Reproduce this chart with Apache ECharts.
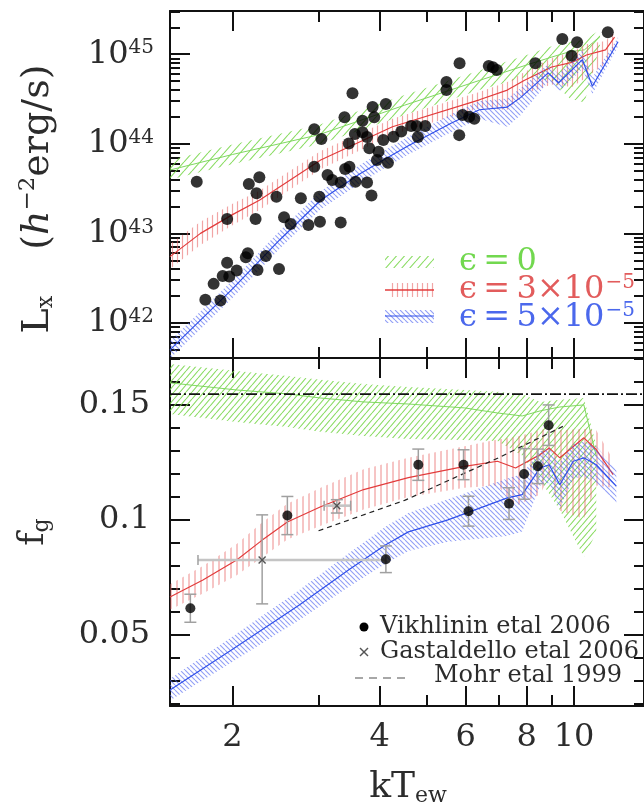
<!DOCTYPE html>
<html>
<head>
<meta charset="utf-8">
<script src="https://cdn.jsdelivr.net/npm/echarts@6/dist/echarts.min.js"></script>
<style>
  html, body { margin: 0; padding: 0; background: #fff; }
  #chart { width: 644px; height: 812px; }
</style>
</head>
<body>
<div id="chart"></div>
<script>
// ---------------- axis ranges and ticks ----------------
const kTMin = 1.49, kTMax = 13.9;            // keV
const lxMin = 4.06e41, lxMax = 3.04e45;      // h^-2 erg/s
const fMin = 0.0191, fMax = 0.1704;

const kTMajorTicks = [2, 4, 6, 8, 10];
const kTMinorTicks = [3, 5, 7, 9];
const kTTickLabels = [2, 4, 6, 8, 10];
const lxMajorTicks = [1e42, 1e43, 1e44, 1e45];
const lxTickLabels = [1e42, 1e43, 1e44, 1e45];
const lxMinorMantissas = [2, 3, 4, 5, 6, 7, 8, 9];
const fMajorTicks = [0.05, 0.10, 0.15];
const fTickLabels = [0.05, 0.10, 0.15];
const fMinorTicks = [0.02, 0.03, 0.04, 0.06, 0.07, 0.08, 0.09, 0.11, 0.12, 0.13, 0.14, 0.16, 0.17];

// ---------------- upper panel: observed clusters ----------------
const clusterKT = [1.69, 2.16, 2.27, 2.24, 2.46, 2.76, 3.01, 2.94, 2.94, 3.04,
  5.83, 5.48, 5.48, 3.52, 3.39, 3.87, 3.90, 4.12, 3.69, 3.46,
  3.56, 3.69, 3.77, 3.81, 3.98, 3.95, 4.16, 4.07, 4.27, 4.43,
  4.64, 4.76, 4.96, 4.79, 5.82, 5.91, 6.10, 6.25, 3.13, 3.20,
  3.33, 3.40, 3.47, 3.57, 3.77, 3.85, 11.72, 9.46, 10.14, 9.88,
  8.33, 6.69, 6.82, 6.95, 1.95, 2.23, 2.55, 2.63, 2.86, 3.02,
  2.15, 2.13, 1.95, 1.91, 1.97, 2.04, 2.25, 2.34, 2.49, 1.83,
  1.76, 1.89, 3.33];
const clusterLx = [3.78e43, 3.56e43, 4.24e43, 2.81e43, 2.57e43, 2.47e43, 2.57e43, 1.45e44, 5.56e43, 1.13e44,
  7.93e44, 4.91e44, 3.99e44, 3.67e44, 1.98e44, 2.58e44, 1.98e44, 2.79e44, 1.81e44, 1.01e44,
  1.29e44, 1.35e44, 1.19e44, 8.93e43, 8.18e43, 6.61e43, 6.16e43, 1.10e44, 1.20e44, 1.37e44,
  1.58e44, 1.58e44, 1.58e44, 1.19e44, 1.25e44, 2.10e44, 2.01e44, 1.91e44, 4.49e43, 3.95e43,
  3.69e43, 5.24e43, 5.56e43, 3.78e43, 3.69e43, 2.65e43, 1.76e45, 1.48e45, 1.36e45, 9.65e44,
  7.93e44, 7.40e44, 7.16e44, 6.68e44, 1.45e43, 1.45e43, 1.51e43, 1.27e43, 1.24e43, 1.35e43,
  6.00e42, 5.42e42, 4.71e42, 3.35e42, 3.29e42, 3.84e42, 3.91e42, 5.60e42, 4.01e42, 2.73e42,
  1.81e42, 1.78e42, 1.32e43];

// ---------------- upper panel: simulated L-T bands ----------------
const lxEps0KT  = [1.49, 2.0, 3.0, 4.5, 6.4, 8.0, 9.0, 9.8, 10.5, 11.3];
const lxEps0Mid = [5.1e43, 7.6e43, 1.26e44, 2.7e44, 5.1e44, 7.6e44, 9.3e44, 1.07e45, 1.12e45, 1.58e45];
const lxEps0Hi  = [6.6e43, 9.8e43, 1.62e44, 3.5e44, 6.6e44, 9.8e44, 1.23e45, 1.38e45, 1.45e45, 1.86e45];
const lxEps0Lo  = [4.0e43, 5.9e43, 9.8e43, 2.1e44, 4.0e44, 5.6e44, 5.0e44, 3.2e44, 2.9e44, 1.26e45];

const lxEps3KT  = [1.49, 1.72, 2.0, 2.27, 3.03, 4.25, 6.4, 7.3, 7.9, 9.0, 9.9, 10.6, 11.6, 12.1];
const lxEps3Mid = [5.5e42, 1.0e43, 1.62e43, 2.34e43, 6.6e43, 1.55e44, 3.1e44, 3.98e44, 5.1e44, 7.2e44, 8.1e44, 9.8e44, 1.12e45, 1.55e45];
const lxEps3Hi  = [7.6e42, 1.35e43, 2.14e43, 3.0e43, 8.3e43, 1.9e44, 3.8e44, 4.9e44, 6.3e44, 9.1e44, 1.07e45, 1.29e45, 1.41e45, 1.78e45];
const lxEps3Lo  = [4.0e42, 7.4e42, 1.23e43, 1.82e43, 5.2e43, 1.26e44, 2.5e44, 2.4e44, 3.6e44, 4.6e44, 4.3e44, 5.5e44, 7.9e44, 1.23e45];

const lxEps5KT  = [1.49, 2.0, 2.5, 3.03, 3.64, 4.13, 4.58, 5.6, 6.4, 7.3, 7.78, 8.85, 9.3, 10.4, 10.9, 12.3];
const lxEps5Mid = [5.0e41, 2.4e42, 8.5e42, 2.34e43, 4.6e43, 6.9e43, 9.5e43, 1.7e44, 2.4e44, 2.57e44, 3.3e44, 6.2e44, 4.8e44, 8.7e44, 4.4e44, 1.38e45];
const lxEps5Hi  = [6.3e41, 3.0e42, 1.07e43, 2.95e43, 5.8e43, 8.7e43, 1.2e44, 2.14e44, 3.0e44, 3.2e44, 4.2e44, 7.8e44, 6.0e44, 1.1e45, 5.5e44, 1.55e45];
const lxEps5Lo  = [4.0e41, 1.9e42, 6.8e42, 1.86e43, 3.6e43, 5.5e43, 7.6e43, 1.35e44, 1.9e44, 1.55e44, 2.1e44, 4.9e44, 3.8e44, 6.9e44, 3.6e44, 1.23e45];

// ---------------- lower panel: gas fractions ----------------
const fgEps0KT  = [1.49, 2.04, 2.59, 3.03, 3.71, 4.58, 5.97, 6.97, 7.83, 8.52, 9.35, 10.47, 11.1];
const fgEps0Mid = [0.1596, 0.1565, 0.1548, 0.1530, 0.1513, 0.1504, 0.1487, 0.1465, 0.1452, 0.1474, 0.1491, 0.1500, 0.1278];
const fgEps0Hi  = [0.1678, 0.1648, 0.1626, 0.1609, 0.1591, 0.1578, 0.1565, 0.1557, 0.1548, 0.1513, 0.1522, 0.1530, 0.1326];
const fgEps0Lo  = [0.1461, 0.1426, 0.1404, 0.1383, 0.1365, 0.1352, 0.1348, 0.1343, 0.1280, 0.1174, 0.1043, 0.0839, 0.0943];

const fgEps3KT  = [1.49, 1.74, 2.04, 2.29, 2.59, 3.03, 3.71, 4.58, 5.97, 6.97, 7.59, 8.52, 8.89, 9.35, 10.47, 11.1, 12.02];
const fgEps3Mid = [0.0665, 0.0739, 0.0826, 0.0909, 0.0991, 0.1057, 0.1132, 0.1184, 0.1233, 0.1255, 0.1226, 0.1284, 0.1313, 0.1270, 0.1357, 0.1306, 0.1197];
const fgEps3Hi  = [0.0720, 0.0800, 0.0895, 0.0985, 0.1070, 0.1140, 0.1220, 0.1270, 0.1320, 0.1350, 0.1360, 0.1390, 0.1400, 0.1390, 0.1395, 0.1390, 0.1260];
const fgEps3Lo  = [0.0610, 0.0680, 0.0760, 0.0835, 0.0915, 0.0975, 0.1045, 0.1100, 0.1140, 0.1150, 0.1060, 0.1110, 0.1190, 0.1040, 0.1005, 0.1150, 0.1140];

const fgEps5KT  = [1.49, 1.99, 2.74, 3.46, 4.11, 4.58, 5.52, 7.30, 7.83, 8.52, 8.89, 9.35, 9.96, 10.47, 11.1, 12.2];
const fgEps5Mid = [0.0261, 0.0435, 0.0630, 0.0783, 0.0891, 0.0948, 0.1000, 0.1096, 0.1110, 0.1226, 0.1240, 0.1153, 0.1255, 0.1270, 0.1240, 0.1147];
const fgEps5Hi  = [0.0310, 0.0490, 0.0695, 0.0855, 0.0970, 0.1030, 0.1090, 0.1180, 0.1200, 0.1300, 0.1310, 0.1250, 0.1330, 0.1340, 0.1320, 0.1220];
const fgEps5Lo  = [0.0215, 0.0380, 0.0565, 0.0710, 0.0810, 0.0865, 0.0905, 0.0930, 0.0950, 0.1150, 0.1160, 0.1050, 0.1180, 0.1190, 0.1160, 0.1070];

const vikhKT  = [1.64, 2.59, 4.12, 4.80, 5.94, 6.08, 7.36, 7.90, 8.43, 8.87];
const vikhF   = [0.0616, 0.1019, 0.0829, 0.1240, 0.1240, 0.1038, 0.1071, 0.1200, 0.1233, 0.1412];
const vikhErr = [0.0061, 0.0083, 0.0058, 0.0068, 0.0065, 0.0065, 0.0069, 0.0110, 0.0075, 0.0088];

const gastKT   = [2.30, 3.27];
const gastKTLo = [1.70, 3.08];
const gastKTHi = [4.11, 3.49];
const gastF    = [0.0826, 0.1062];
const gastFLo  = [0.0635, 0.1030];
const gastFHi  = [0.1022, 0.1088];

const mohrKT = [3.0, 4.5, 7.0, 9.6];
const mohrF  = [0.0953, 0.1085, 0.1270, 0.1412];

const cosmicBaryonFraction = 0.1547;

// ---------------- styling ----------------
const SERIF = '"DejaVu Serif", serif';
const INK = '#111';
const TEXT = '#2c2c2c';
const GREEN_HATCH = 'rgba(118, 214, 72, 0.85)', GREEN_LINE = '#7fd95f', GREEN_TEXT = '#72d84f';
const RED_HATCH = 'rgba(232, 105, 105, 0.6)', RED_LINE = '#e23c3c', RED_TEXT = '#e25c5c';
const BLUE_HATCH = 'rgba(78, 98, 240, 0.62)', BLUE_LINE = '#3050ea', BLUE_TEXT = '#4b68ec';
const ERR_GREY = '#a0a0a0';

const lg = Math.log10;
const id = v => v;

// repeating hatch tile used as a texture fill
function hatch(kind, w, h, color, lw) {
  const c = document.createElement('canvas');
  c.width = w; c.height = h;
  const g = c.getContext('2d');
  g.strokeStyle = color; g.lineWidth = lw;
  g.beginPath();
  if (kind === '|') {
    g.moveTo(w / 2, 0); g.lineTo(w / 2, h);
  } else {
    for (const dx of [-w, 0, w]) {
      if (kind === '/') { g.moveTo(dx, h); g.lineTo(dx + w, 0); }
      else { g.moveTo(dx, 0); g.lineTo(dx + w, h); }
    }
  }
  g.stroke();
  return { image: c, repeat: 'repeat' };
}

const fillGreenTop = hatch('/', 8, 9, GREEN_HATCH, 1.1);
const fillRedTop = hatch('|', 5, 4, RED_HATCH, 1.2);
const fillBlueTop = hatch('\\', 5, 5, BLUE_HATCH, 1.1);
const fillGreenBot = hatch('/', 6, 7, GREEN_HATCH, 1.1);
const fillRedBot = hatch('|', 6, 4, RED_HATCH, 1.3);
const fillBlueBot = hatch('\\', 5, 5, BLUE_HATCH, 1.1);

// ---------------- axes ----------------
function xAxis(grid, pos, ticks, len, line, labels) {
  return {
    type: 'value', gridIndex: grid, position: pos, min: lg(kTMin), max: lg(kTMax),
    axisLine: { show: line, onZero: false, lineStyle: { color: INK, width: 2 } },
    axisTick: { show: true, inside: true, length: len, customValues: ticks.map(lg), lineStyle: { color: INK, width: 2 } },
    axisLabel: labels ? {
      show: true, customValues: labels.map(lg), margin: 16,
      formatter: v => String(Math.round(Math.pow(10, v))),
      fontFamily: SERIF, fontSize: 32, color: TEXT
    } : { show: false },
    splitLine: { show: false }
  };
}

const lxMinorTicks = [];
for (let e = 41; e <= 45; e++) {
  lxMinorMantissas.forEach(m => {
    const v = m * Math.pow(10, e);
    if (v >= lxMin && v <= lxMax) lxMinorTicks.push(v);
  });
}

function yAxisLx(grid, pos, ticks, len, line, labels) {
  return {
    type: 'value', gridIndex: grid, position: pos, min: lg(lxMin), max: lg(lxMax),
    axisLine: { show: line, onZero: false, lineStyle: { color: INK, width: 2 } },
    axisTick: { show: true, inside: true, length: len, customValues: ticks.map(lg), lineStyle: { color: INK, width: 2 } },
    axisLabel: labels ? {
      show: true, customValues: labels.map(lg), margin: 16,
      formatter: v => '{m|10}{s|' + Math.round(v) + '}',
      rich: {
        m: { fontFamily: SERIF, fontSize: 32, color: TEXT },
        s: { fontFamily: SERIF, fontSize: 20, color: TEXT, padding: [0, 0, 12, 0] }
      }
    } : { show: false },
    splitLine: { show: false }
  };
}

function yAxisF(grid, pos, ticks, len, line, labels) {
  return {
    type: 'value', gridIndex: grid, position: pos, min: fMin, max: fMax,
    axisLine: { show: line, onZero: false, lineStyle: { color: INK, width: 2 } },
    axisTick: { show: true, inside: true, length: len, customValues: ticks, lineStyle: { color: INK, width: 2 } },
    axisLabel: labels ? {
      show: true, customValues: labels, margin: 20,
      formatter: v => String(+v.toFixed(2)),
      fontFamily: SERIF, fontSize: 32, color: TEXT
    } : { show: false },
    splitLine: { show: false }
  };
}

// ---------------- series helpers ----------------
function bandArea(kT, lo, hi, fill, xi, yi, ty, z) {
  return {
    type: 'custom', xAxisIndex: xi, yAxisIndex: yi, z, silent: true, clip: true,
    data: [[lg(kT[1]), ty(hi[1])]],
    renderItem(params, api) {
      const up = kT.map((t, i) => api.coord([lg(t), ty(hi[i])]));
      const dn = kT.map((t, i) => api.coord([lg(t), ty(lo[i])])).reverse();
      const cs = params.coordSys;
      return {
        type: 'polygon', shape: { points: up.concat(dn) }, style: { fill: fill },
        clipPath: { type: 'rect', shape: { x: cs.x, y: cs.y, width: cs.width, height: cs.height } }
      };
    }
  };
}

function bandLine(kT, mid, color, width, xi, yi, ty, z) {
  return {
    type: 'line', xAxisIndex: xi, yAxisIndex: yi, z, silent: true, symbol: 'none',
    data: kT.map((t, i) => [lg(t), ty(mid[i])]),
    lineStyle: { color, width }
  };
}

const series = [
  // upper panel
  bandArea(lxEps0KT, lxEps0Lo, lxEps0Hi, fillGreenTop, 0, 0, lg, 1),
  bandLine(lxEps0KT, lxEps0Mid, GREEN_LINE, 1, 0, 0, lg, 1),
  bandArea(lxEps3KT, lxEps3Lo, lxEps3Hi, fillRedTop, 0, 0, lg, 2),
  bandLine(lxEps3KT, lxEps3Mid, RED_LINE, 1.2, 0, 0, lg, 2),
  bandArea(lxEps5KT, lxEps5Lo, lxEps5Hi, fillBlueTop, 0, 0, lg, 3),
  bandLine(lxEps5KT, lxEps5Mid, BLUE_LINE, 1.2, 0, 0, lg, 3),
  {
    type: 'scatter', xAxisIndex: 0, yAxisIndex: 0, z: 5, silent: true,
    symbol: 'circle', symbolSize: 12, itemStyle: { color: '#000' },
    data: clusterKT.map((t, i) => [lg(t), lg(clusterLx[i])])
  },

  // lower panel
  bandArea(fgEps0KT, fgEps0Lo, fgEps0Hi, fillGreenBot, 4, 4, id, 1),
  bandLine(fgEps0KT, fgEps0Mid, GREEN_LINE, 1, 4, 4, id, 1),
  bandArea(fgEps3KT, fgEps3Lo, fgEps3Hi, fillRedBot, 4, 4, id, 2),
  bandLine(fgEps3KT, fgEps3Mid, RED_LINE, 1.2, 4, 4, id, 2),
  bandArea(fgEps5KT, fgEps5Lo, fgEps5Hi, fillBlueBot, 4, 4, id, 3),
  bandLine(fgEps5KT, fgEps5Mid, BLUE_LINE, 1.2, 4, 4, id, 3),
  {
    // cosmic baryon fraction, spanning the whole temperature axis
    type: 'line', xAxisIndex: 4, yAxisIndex: 4, z: 4, silent: true, symbol: 'none',
    data: [[lg(kTMin), cosmicBaryonFraction], [lg(kTMax), cosmicBaryonFraction]],
    lineStyle: { color: '#111', width: 1.6, type: [11, 3, 2, 3] }
  },
  {
    type: 'line', xAxisIndex: 4, yAxisIndex: 4, z: 4, silent: true, symbol: 'none',
    data: mohrKT.map((t, i) => [lg(t), mohrF[i]]),
    lineStyle: { color: '#222', width: 1.2, type: [5, 4] }
  },
  {
    // Vikhlinin et al. error bars
    type: 'custom', xAxisIndex: 4, yAxisIndex: 4, z: 5, silent: true,
    data: vikhKT.map((t, i) => [lg(t), vikhF[i], vikhErr[i]]),
    renderItem(params, api) {
      const x = api.value(0), y = api.value(1), e = api.value(2);
      const a = api.coord([x, y + e]), b = api.coord([x, y - e]);
      const st = { stroke: ERR_GREY, lineWidth: 1.5 };
      return {
        type: 'group', children: [
          { type: 'line', shape: { x1: a[0], y1: a[1], x2: b[0], y2: b[1] }, style: st },
          { type: 'line', shape: { x1: a[0] - 6, y1: a[1], x2: a[0] + 6, y2: a[1] }, style: st },
          { type: 'line', shape: { x1: b[0] - 6, y1: b[1], x2: b[0] + 6, y2: b[1] }, style: st }
        ]
      };
    }
  },
  {
    // Gastaldello et al. points with temperature and fraction ranges
    type: 'custom', xAxisIndex: 4, yAxisIndex: 4, z: 5, silent: true,
    data: gastKT.map((t, i) => [lg(t), gastF[i], lg(gastKTLo[i]), lg(gastKTHi[i]), gastFLo[i], gastFHi[i]]),
    renderItem(params, api) {
      const x = api.value(0), y = api.value(1);
      const c = api.coord([x, y]);
      const l = api.coord([api.value(2), y]), r = api.coord([api.value(3), y]);
      const lo = api.coord([x, api.value(4)]), hi = api.coord([x, api.value(5)]);
      const hs = { stroke: '#c4c4c4', lineWidth: 2.6 };
      const vs = { stroke: ERR_GREY, lineWidth: 1.5 };
      const ms = { stroke: '#555', lineWidth: 1.4 };
      const k = 3.5;
      return {
        type: 'group', children: [
          { type: 'line', shape: { x1: l[0], y1: l[1], x2: r[0], y2: r[1] }, style: hs },
          { type: 'line', shape: { x1: l[0], y1: l[1] - 5, x2: l[0], y2: l[1] + 5 }, style: vs },
          { type: 'line', shape: { x1: r[0], y1: r[1] - 5, x2: r[0], y2: r[1] + 5 }, style: vs },
          { type: 'line', shape: { x1: lo[0], y1: lo[1], x2: hi[0], y2: hi[1] }, style: vs },
          { type: 'line', shape: { x1: hi[0] - 6, y1: hi[1], x2: hi[0] + 6, y2: hi[1] }, style: vs },
          { type: 'line', shape: { x1: lo[0] - 6, y1: lo[1], x2: lo[0] + 6, y2: lo[1] }, style: vs },
          { type: 'line', shape: { x1: c[0] - k, y1: c[1] - k, x2: c[0] + k, y2: c[1] + k }, style: ms },
          { type: 'line', shape: { x1: c[0] - k, y1: c[1] + k, x2: c[0] + k, y2: c[1] - k }, style: ms }
        ]
      };
    }
  },
  {
    type: 'scatter', xAxisIndex: 4, yAxisIndex: 4, z: 6, silent: true,
    symbol: 'circle', symbolSize: 10, itemStyle: { color: '#000' },
    data: vikhKT.map((t, i) => [lg(t), vikhF[i]])
  }
];

// ---------------- titles and legends ----------------
const richTitle = {
  m: { fontFamily: SERIF, fontSize: 36, fill: TEXT },
  i: { fontFamily: SERIF, fontSize: 36, fontStyle: 'italic', fill: TEXT },
  sb: { fontFamily: SERIF, fontSize: 22, fill: TEXT, padding: [16, 0, 0, 0] },
  sp: { fontFamily: SERIF, fontSize: 22, fill: TEXT, padding: [0, 0, 18, 0] },
  gap: { fontFamily: SERIF, fontSize: 36, width: 44 }
};
const richLxTitle = Object.assign({}, richTitle, {
  m: { fontFamily: SERIF, fontSize: 38, fill: TEXT },
  i: { fontFamily: SERIF, fontSize: 38, fontStyle: 'italic', fill: TEXT },
  sp: { fontFamily: SERIF, fontSize: 23, fill: TEXT, padding: [0, 0, 19, 0] },
  gap: { fontFamily: SERIF, fontSize: 38, width: 46 }
});

function legendText(y, txt, color) {
  return {
    type: 'text', x: 459, y: y,
    style: {
      text: txt, align: 'left', verticalAlign: 'middle',
      rich: {
        m: { fontFamily: SERIF, fontSize: 32, fill: color },
        s: { fontFamily: SERIF, fontSize: 20, fill: color, padding: [0, 0, 14, 1] }
      }
    }
  };
}

const graphic = [
  // axis titles
  { type: 'text', x: 38, y: 199, rotation: Math.PI / 2,
    style: { text: '{m|L}{sb|x}{gap| }{m|(}{i|h}{sp|\u22122}{m|erg/s)}', rich: richLxTitle, align: 'center', verticalAlign: 'middle' } },
  { type: 'text', x: 34, y: 532, rotation: Math.PI / 2,
    style: { text: '{m|f}{sb|g}', rich: richTitle, align: 'center', verticalAlign: 'middle' } },
  { type: 'text', x: 408, y: 788,
    style: { text: '{m|kT}{sb|ew}', rich: richTitle, align: 'center', verticalAlign: 'middle' } },

  // model legend (upper panel)
  { type: 'rect', shape: { x: 385, y: 256, width: 49, height: 12 }, style: { fill: fillGreenTop } },
  { type: 'rect', shape: { x: 390, y: 283, width: 44, height: 14 }, style: { fill: fillRedTop } },
  { type: 'line', shape: { x1: 385, y1: 290, x2: 434, y2: 290 }, style: { stroke: RED_LINE, lineWidth: 1.3 } },
  { type: 'rect', shape: { x: 385, y: 310, width: 49, height: 13 }, style: { fill: fillBlueTop } },
  { type: 'line', shape: { x1: 385, y1: 316, x2: 434, y2: 316 }, style: { stroke: BLUE_LINE, lineWidth: 1.2 } },
  legendText(262, '{m|\u03f5\u2009=\u20090}', GREEN_TEXT),
  legendText(290, '{m|\u03f5\u2009=\u20093\u00d710}{s|\u22125}', RED_TEXT),
  legendText(318, '{m|\u03f5\u2009=\u20095\u00d710}{s|\u22125}', BLUE_TEXT),

  // data legend (lower panel)
  { type: 'circle', shape: { cx: 364, cy: 627, r: 4.5 }, style: { fill: '#000' } },
  { type: 'line', shape: { x1: 360, y1: 648, x2: 368, y2: 656 }, style: { stroke: '#555', lineWidth: 1.4 } },
  { type: 'line', shape: { x1: 360, y1: 656, x2: 368, y2: 648 }, style: { stroke: '#555', lineWidth: 1.4 } },
  { type: 'line', shape: { x1: 355, y1: 678, x2: 411, y2: 678 }, style: { stroke: '#8a8a8a', lineWidth: 1.4, lineDash: [8, 6] } },
  { type: 'text', x: 380, y: 627, style: { text: 'Vikhlinin etal 2006', font: '24px ' + SERIF, fill: TEXT, align: 'left', verticalAlign: 'middle' } },
  { type: 'text', x: 380, y: 652, style: { text: 'Gastaldello etal 2006', font: '24px ' + SERIF, fill: TEXT, align: 'left', verticalAlign: 'middle' } },
  { type: 'text', x: 434, y: 676, style: { text: 'Mohr etal 1999', font: '24px ' + SERIF, fill: TEXT, align: 'left', verticalAlign: 'middle' } }
];

// ---------------- chart ----------------
const chart = echarts.init(document.getElementById('chart'), null, { renderer: 'canvas' });
chart.setOption({
  animation: false,
  backgroundColor: '#fff',
  grid: [
    { left: 170, width: 478, top: 11, height: 347 },   // upper panel, major ticks
    { left: 170, width: 478, top: 11, height: 347 },   // upper panel, minor ticks
    { left: 170, width: 478, top: 358, height: 348 },  // lower panel, major ticks
    { left: 170, width: 478, top: 358, height: 348 }   // lower panel, minor ticks
  ],
  xAxis: [
    xAxis(0, 'bottom', kTMajorTicks, 20, true, null),
    xAxis(0, 'top', kTMajorTicks, 20, true, null),
    xAxis(1, 'bottom', kTMinorTicks, 11, false, null),
    xAxis(1, 'top', kTMinorTicks, 11, false, null),
    xAxis(2, 'bottom', kTMajorTicks, 20, true, kTTickLabels),
    xAxis(2, 'top', kTMajorTicks, 20, true, null),
    xAxis(3, 'bottom', kTMinorTicks, 11, false, null),
    xAxis(3, 'top', kTMinorTicks, 11, false, null)
  ],
  yAxis: [
    yAxisLx(0, 'left', lxMajorTicks, 20, true, lxTickLabels),
    yAxisLx(0, 'right', lxMajorTicks, 20, true, null),
    yAxisLx(1, 'left', lxMinorTicks, 10, false, null),
    yAxisLx(1, 'right', lxMinorTicks, 10, false, null),
    yAxisF(2, 'left', fMajorTicks, 20, true, fTickLabels),
    yAxisF(2, 'right', fMajorTicks, 20, true, null),
    yAxisF(3, 'left', fMinorTicks, 10, false, null),
    yAxisF(3, 'right', fMinorTicks, 10, false, null)
  ],
  series: series,
  graphic: graphic
});
</script>
</body>
</html>
